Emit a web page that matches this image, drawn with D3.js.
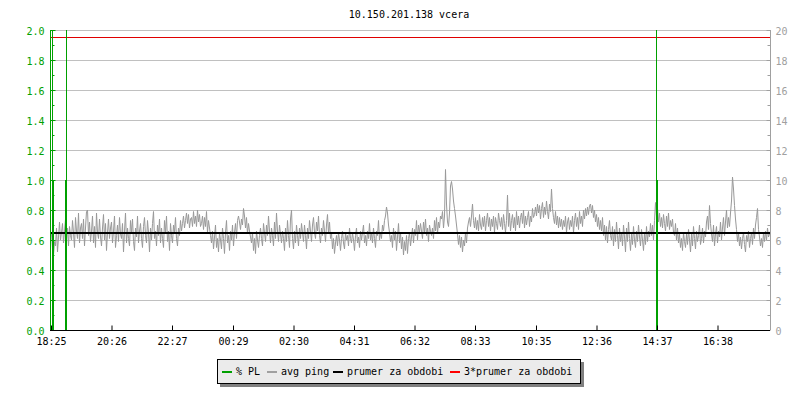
<!DOCTYPE html>
<html><head><meta charset="utf-8">
<script src="https://cdn.jsdelivr.net/npm/d3@7"></script>
<style>body{margin:0;background:#fff}svg{display:block}text{font-family:"DejaVu Sans Mono",monospace;font-size:10px}</style>
</head><body>
<svg id="c" width="800" height="400"></svg>
<script>
const title = "10.150.201.138 vcera";
// x tick minutes since 18:25 and labels
const tickMinutes = [0,121,242,364,485,606,727,848,970,1091,1212,1333];
const tickLabels = ["18:25","20:26","22:27","00:29","02:30","04:31","06:32","08:33","10:35","12:36","14:37","16:38"];
const leftTicks = [0,0.2,0.4,0.6,0.8,1.0,1.2,1.4,1.6,1.8,2.0];
const rightTicks = [0,2,4,6,8,10,12,14,16,18,20];
// avg ping [ms], one sample every 2 minutes starting 18:25
const avgPing = [
6.4,5.4,5.0,5.9,5.6,6.8,5.2,6.2,7.2,6.0,
6.5,7.1,5.8,6.6,7.4,6.1,6.8,5.6,6.9,6.3,
6.0,7.3,6.5,5.5,7.5,6.6,6.1,7.8,5.8,6.8,
7.1,6.1,7.4,5.6,6.8,7.9,8.0,6.3,7.2,5.9,
6.6,7.6,5.8,6.9,5.5,7.8,6.5,6.1,7.4,6.2,
5.6,6.8,7.7,6.0,7.1,5.3,6.5,7.4,6.1,6.8,
7.2,5.8,6.6,7.6,5.5,6.3,7.0,5.9,7.5,6.4,
6.1,7.1,5.2,6.6,7.8,5.8,6.8,6.1,5.6,7.3,
6.5,7.4,5.9,5.3,6.8,6.2,7.6,5.8,6.6,7.1,
6.1,5.5,6.9,7.5,6.3,5.8,7.3,6.5,5.2,6.8,
6.0,7.1,7.9,6.1,6.6,5.6,7.0,6.3,7.4,5.8,
6.8,6.1,5.5,7.3,6.5,7.6,5.9,6.6,5.3,7.1,
6.3,5.8,7.0,6.5,7.5,6.1,5.6,6.8,6.3,7.3,
6.6,7.1,7.6,6.8,7.3,7.8,7.1,7.7,6.8,7.4,
7.5,6.9,7.9,7.1,7.6,6.9,8.0,7.2,7.7,6.9,
7.1,7.6,6.7,7.5,6.9,7.9,6.5,7.3,6.8,6.3,
5.8,6.6,5.4,6.2,7.0,5.5,6.1,5.2,6.5,6.0,
5.4,6.8,6.1,5.1,6.5,7.3,5.8,6.3,5.3,6.6,
6.0,7.0,5.6,6.5,7.1,6.1,7.3,7.6,7.2,6.7,
7.4,7.0,8.1,7.6,6.8,7.5,6.4,7.1,6.6,6.2,
5.8,6.5,5.3,6.1,5.1,6.6,6.0,5.5,6.3,6.8,
6.1,5.6,7.1,6.5,5.9,7.0,6.3,7.6,6.6,5.8,
6.8,6.3,5.6,7.2,6.1,7.8,6.6,5.9,7.0,6.4,
5.8,6.6,6.1,5.3,6.8,5.9,7.3,6.3,5.5,7.4,
8.0,6.1,5.4,6.6,5.8,7.0,6.3,5.6,6.8,6.1,
7.1,6.5,5.9,7.0,6.3,5.4,6.8,6.1,7.3,6.6,
5.9,7.0,7.5,6.5,6.1,7.2,6.6,7.6,6.3,5.8,
6.8,6.3,7.3,6.6,5.9,7.0,7.7,6.4,7.2,6.1,
6.5,5.4,6.1,5.1,5.8,6.3,5.6,6.5,6.0,5.3,
6.1,6.6,5.8,5.4,6.5,6.0,6.3,5.6,6.8,6.1,
5.8,6.5,6.0,5.3,6.3,6.8,5.8,6.2,5.5,6.6,
6.0,6.5,7.0,5.8,6.3,5.6,6.6,6.1,7.1,6.0,
6.5,5.8,6.8,6.1,5.5,6.6,6.3,7.3,6.0,6.5,
6.1,7.0,6.6,7.3,7.6,8.2,7.8,7.0,6.5,5.9,
6.3,5.5,6.8,6.0,6.6,5.3,6.2,7.1,5.8,6.5,
5.4,6.2,5.0,5.9,5.3,6.3,5.1,6.1,6.5,5.6,
6.2,6.8,5.8,6.7,6.3,7.3,6.0,7.0,6.5,7.1,
6.6,6.1,7.2,6.5,7.4,6.3,6.8,5.9,7.0,6.6,
6.3,6.8,6.1,7.3,6.6,7.5,6.4,7.2,6.8,7.6,
7.4,7.9,6.8,7.6,10.7,8.4,7.2,6.9,7.8,9.6,
9.9,9.4,8.6,8.1,7.6,7.0,6.4,5.7,6.3,5.5,
6.2,5.2,6.0,5.6,6.5,5.8,6.8,7.2,7.5,6.9,
7.6,8.4,7.3,6.8,7.5,6.7,7.3,6.6,7.7,7.0,
6.7,7.5,6.9,7.6,6.6,7.3,7.8,6.9,7.5,6.6,
7.4,6.9,7.6,6.5,7.5,7.1,6.7,7.8,7.3,6.9,
7.5,6.7,7.7,7.1,6.5,7.3,9.0,6.9,7.8,6.6,
7.3,7.7,6.8,7.5,6.6,7.9,7.0,7.6,6.8,7.5,
7.8,7.1,8.0,6.8,7.6,7.0,7.5,7.9,6.9,7.6,
7.2,8.1,7.5,7.7,8.2,7.6,8.4,7.8,8.3,7.4,
8.1,8.5,7.5,8.2,7.7,8.6,7.9,7.4,8.4,7.9,
9.4,8.1,7.5,7.1,7.9,7.0,7.6,6.8,7.5,6.9,
7.4,6.7,7.3,6.9,7.6,6.5,7.2,7.5,6.7,7.3,
6.9,7.6,6.5,7.3,7.8,6.9,7.5,6.7,7.9,7.1,
7.6,6.9,8.0,7.4,8.1,7.6,8.2,7.7,8.3,8.4,
7.8,8.3,7.5,8.0,7.2,7.7,6.9,7.5,6.7,7.3,
6.6,7.5,6.3,7.0,6.0,6.9,5.8,6.7,7.3,6.3,
6.0,6.9,5.6,6.7,5.9,7.2,6.3,5.4,6.8,5.9,
6.5,5.6,7.0,6.2,5.2,6.8,5.9,7.2,6.1,5.3,
6.4,5.7,6.9,6.0,5.5,6.6,5.9,7.0,6.2,5.6,
6.7,6.0,5.3,6.5,5.7,6.9,5.9,6.6,6.2,7.1,
6.3,7.0,6.0,7.3,8.5,7.6,8.1,7.2,7.8,6.9,
7.5,6.8,7.7,7.1,6.6,7.6,6.9,7.8,6.7,7.3,
6.9,7.4,6.5,6.3,7.1,6.0,6.8,5.8,6.4,5.5,
6.1,5.3,6.5,5.9,5.5,6.4,5.7,6.7,6.0,5.2,
6.4,5.6,6.9,6.1,5.4,6.6,5.9,6.3,7.0,5.7,
6.1,6.8,5.8,6.6,6.2,7.2,7.6,6.7,8.3,7.1,
6.4,5.9,7.0,5.6,6.4,6.9,5.8,6.6,6.2,7.2,
6.0,6.8,7.5,6.3,7.2,8.0,6.8,7.5,6.9,7.8,
8.6,10.2,9.4,8.3,7.4,6.7,5.9,6.5,5.6,6.2,
5.4,6.1,6.5,5.7,5.2,6.3,5.9,6.6,5.5,6.1,
6.5,5.7,6.8,6.1,7.0,7.5,8.1,6.7,6.2,5.6,
6.1,5.5,6.5,5.9,6.6,6.0,6.8,6.2,6.4,6.6
];
// packet loss [%] events (minute since 18:25, value)
const plMinutes = [2,4,28,30,1210,1212];
const plValues  = [2.0,1.0,1.0,2.0,2.0,1.0];
const avgValue = 6.5;        // prumer za obdobi [ms]
const avg3Value = 19.5;      // 3*prumer [ms]
const legendNames = ["% PL","avg ping","prumer za obdobi","3*prumer za obdobi"];
const legendColors = ["#00a000","#a0a0a0","#000000","#ff0000"];

const svg = d3.select("#c");
const x = d3.scaleLinear().domain([0,1440]).range([51,771]);
const yL = d3.scaleLinear().domain([0,2]).range([330,30]);
const yR = d3.scaleLinear().domain([0,20]).range([330,30]);

svg.append("text").attr("x",409).attr("y",18).attr("text-anchor","middle").text(title);

// grid
svg.append("g").selectAll("line").data(leftTicks.slice(1)).join("line")
  .attr("x1",51).attr("x2",770).attr("y1",d=>Math.round(yL(d))+0.5).attr("y2",d=>Math.round(yL(d))+0.5)
  .attr("stroke","#c0c0c0").attr("shape-rendering","crispEdges");

// avg ping line
svg.append("path").datum(avgPing)
  .attr("d", d3.line().x((d,i)=>x(i*2)+0.5).y(d=>yR(d)))
  .attr("fill","none").attr("stroke","#999999").attr("stroke-width",1);

// average line
svg.append("line").attr("x1",51).attr("x2",770).attr("y1",yR(avgValue)).attr("y2",yR(avgValue))
  .attr("stroke","#000").attr("stroke-width",2).attr("shape-rendering","crispEdges");
svg.append("line").attr("x1",51).attr("x2",770).attr("y1",yR(avg3Value)).attr("y2",yR(avg3Value))
  .attr("stroke","#e00000").attr("stroke-width",1);

// packet loss
svg.append("g").selectAll("rect").data(plMinutes.map((m,i)=>({m,v:plValues[i]}))).join("rect")
  .attr("x",d=>x(d.m)).attr("width",1)
  .attr("y",d=>yL(Math.min(d.v,2))).attr("height",d=>yL(0)-yL(Math.min(d.v,2)))
  .attr("fill","#00a000").attr("shape-rendering","crispEdges");

// left axis (green)
const gL = svg.append("g").attr("transform","translate(50.5,0)");
gL.call(d3.axisLeft(yL).tickValues(leftTicks).tickSize(-5).tickPadding(6).tickFormat(d3.format(".1f")));
gL.select(".domain").remove();
gL.selectAll(".tick line").attr("stroke","#00a000");
gL.selectAll(".tick text").attr("fill","#00a000").attr("dy","0.42em").style("font-family","DejaVu Sans Mono").style("font-size","10px");
gL.append("line").attr("x1",0).attr("x2",0).attr("y1",30).attr("y2",330).attr("stroke","#00a000");
gL.selectAll(".minor").data(leftTicks.slice(0,-1).map(d=>d+0.1)).join("line")
  .attr("x1",2).attr("x2",4).attr("y1",d=>Math.round(yL(d))+0.5).attr("y2",d=>Math.round(yL(d))+0.5).attr("stroke","#00a000");

// right axis (gray)
const gR = svg.append("g").attr("transform","translate(770.5,0)");
gR.call(d3.axisRight(yR).tickValues(rightTicks).tickSize(-4).tickPadding(5).tickFormat(d3.format("d")));
gR.select(".domain").remove();
gR.selectAll(".tick line").attr("stroke","#a0a0a0");
gR.selectAll(".tick text").attr("fill","#a0a0a0").attr("dy","0.42em").style("font-family","DejaVu Sans Mono").style("font-size","10px");
gR.append("line").attr("x1",0).attr("x2",0).attr("y1",30).attr("y2",330).attr("stroke","#a0a0a0");
gR.selectAll(".minor").data(rightTicks.slice(0,-1).map(d=>d+1)).join("line")
  .attr("x1",-3).attr("x2",0).attr("y1",d=>Math.round(yR(d))+0.5).attr("y2",d=>Math.round(yR(d))+0.5).attr("stroke","#a0a0a0");

// bottom axis
const gB = svg.append("g").attr("transform","translate(0,330.5)");
gB.call(d3.axisBottom(x).tickValues(tickMinutes).tickSize(-5).tickPadding(7).tickFormat((d,i)=>tickLabels[i]));
gB.select(".domain").remove();
gB.selectAll(".tick text").attr("fill","#000").style("font-family","DejaVu Sans Mono").style("font-size","10px");
gB.append("line").attr("x1",50).attr("x2",770).attr("y1",0).attr("y2",0).attr("stroke","#000");

// legend
const lg = svg.append("g");
lg.append("rect").attr("x",220).attr("y",362).attr("width",364).attr("height",25).attr("fill","#808080");
lg.append("rect").attr("x",217.5).attr("y",359.5).attr("width",363).attr("height",24).attr("fill","#ebebeb").attr("stroke","#000");
const lx = [222,267,333,450];
legendNames.forEach((n,i)=>{
  lg.append("rect").attr("x",lx[i]).attr("y",371).attr("width",10).attr("height",2).attr("fill",legendColors[i]);
  lg.append("text").attr("x",lx[i]+14).attr("y",375).attr("fill","#000").text(n);
});
</script>
</body></html>
